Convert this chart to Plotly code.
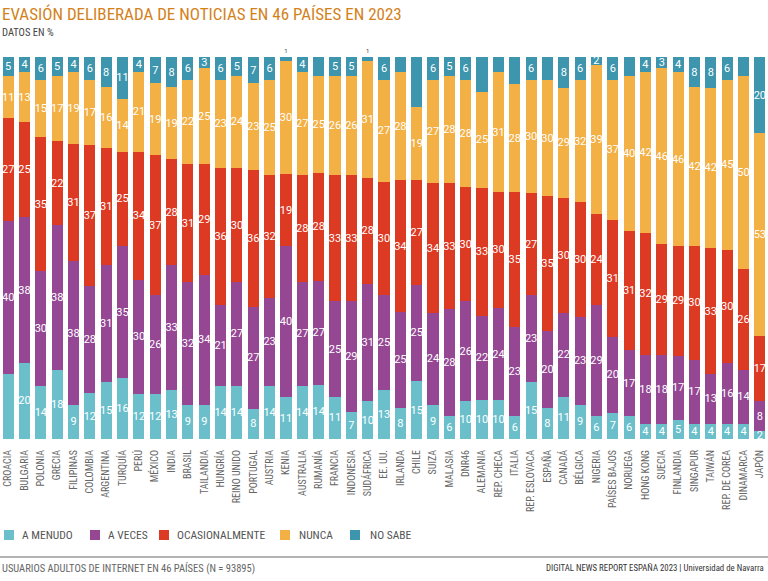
import plotly.graph_objects as go

paises = ["CROACIA", "BULGARIA", "POLONIA", "GRECIA", "FILIPINAS", "COLOMBIA", "ARGENTINA",
          "TURQUÍA", "PERÚ", "MÉXICO", "INDIA", "BRASIL", "TAILANDIA", "HUNGRÍA", "REINO UNIDO",
          "PORTUGAL", "AUSTRIA", "KENIA", "AUSTRALIA", "RUMANÍA", "FRANCIA", "INDONESIA",
          "SUDÁFRICA", "EE. UU.", "IRLANDA", "CHILE", "SUIZA", "MALASIA", "DNR46", "ALEMANIA",
          "REP. CHECA", "ITALIA", "REP. ESLOVACA", "ESPAÑA", "CANADÁ", "BÉLGICA", "NIGERIA",
          "PAÍSES BAJOS", "NORUEGA", "HONG KONG", "SUECIA", "FINLANDIA", "SINGAPUR", "TAIWÁN",
          "REP. DE COREA", "DINAMARCA", "JAPÓN"]

a_menudo = [17, 20, 14, 18, 9, 12, 15, 16, 12, 12, 13, 9, 9, 14, 14, 8, 14, 11, 14, 14, 11, 7,
            10, 13, 8, 15, 9, 6, 10, 10, 10, 6, 15, 8, 11, 9, 6, 7, 6, 4, 4, 5, 4, 4, 4, 4, 2]
a_veces = [40, 38, 30, 38, 38, 28, 31, 35, 30, 26, 33, 32, 34, 21, 27, 27, 23, 40, 27, 27, 25, 29,
           31, 25, 25, 25, 24, 28, 26, 22, 24, 23, 23, 20, 22, 23, 29, 20, 17, 18, 18, 17, 17, 13,
           16, 14, 8]
ocasionalmente = [27, 25, 35, 22, 31, 37, 31, 25, 34, 37, 28, 31, 29, 36, 30, 36, 32, 19, 28, 28,
                  33, 33, 28, 30, 34, 27, 34, 33, 30, 33, 30, 35, 27, 35, 30, 30, 24, 31, 31, 32,
                  29, 29, 30, 33, 30, 26, 17]
nunca = [11, 13, 15, 17, 19, 17, 16, 14, 21, 19, 19, 22, 25, 23, 24, 23, 25, 30, 27, 25, 26, 26,
         31, 27, 28, 19, 27, 28, 28, 25, 31, 28, 30, 30, 29, 32, 39, 37, 40, 42, 46, 46, 42, 42,
         45, 50, 53]
no_sabe = [5, 4, 6, 5, 4, 6, 8, 11, 4, 7, 8, 6, 3, 6, 5, 7, 6, 1, 4, 5, 5, 5, 1, 6, 4, 13, 6, 5,
           6, 9, 4, 7, 6, 6, 8, 6, 2, 6, 5, 4, 3, 4, 8, 8, 6, 5, 20]

series = [
    ("A MENUDO", a_menudo, "#6bbfcb"),
    ("A VECES", a_veces, "#954794"),
    ("OCASIONALMENTE", ocasionalmente, "#dd3a24"),
    ("NUNCA", nunca, "#f3b044"),
    ("NO SABE", no_sabe, "#3d95ae"),
]

COND = "Roboto Condensed, Roboto, sans-serif"

fig = go.Figure()
for name, vals, col in series:
    texts = [str(v) for v in vals]
    positions = ["inside"] * len(vals)
    if name == "A MENUDO":
        texts[0] = ""
    if name == "NO SABE":
        for i, v in enumerate(vals):
            if v <= 1:
                positions[i] = "outside"
    fig.add_trace(go.Bar(
        x=paises, y=vals, name=name, marker=dict(color=col, line=dict(width=0)),
        text=texts, textposition=positions, insidetextanchor="middle",
        textangle=0, constraintext="none",
        insidetextfont=dict(color="white", size=11, family="Roboto"),
        outsidetextfont=dict(color="#444444", size=6, family="Roboto"),
        cliponaxis=False, hoverinfo="x+y+name", showlegend=False,
    ))

H = 382.0
W = 768.0
def py(pix):
    return (439 - pix) / H
def px(pix):
    return pix / W

# legend (swatch + label), laid out like the reference
leg_sq_x = [4, 90, 159, 280, 350]
leg_tx_x = [20, 106, 175, 297, 368]
LEG_Y = 535
shapes = []
anns = []
for (name, vals, col), sx, tx in zip(series, leg_sq_x, leg_tx_x):
    shapes.append(dict(type="rect", xref="paper", yref="paper",
                       x0=px(sx), x1=px(sx + 10), y0=py(LEG_Y + 5), y1=py(LEG_Y - 5),
                       fillcolor=col, line=dict(width=0)))
    anns.append(dict(text=name, xref="paper", yref="paper", x=px(tx), y=py(LEG_Y),
                     xanchor="left", yanchor="middle", showarrow=False,
                     font=dict(family=COND, size=11.5, color="#555555")))

shapes.append(dict(type="line", xref="paper", yref="paper", x0=0, x1=1, y0=py(557), y1=py(557),
                   line=dict(color="#9a9a9a", width=1.5)))

anns += [
    dict(text="EVASIÓN DELIBERADA DE NOTICIAS EN 46 PAÍSES EN 2023", xref="paper", yref="paper",
         x=0, y=py(14), xanchor="left", yanchor="middle", showarrow=False,
         font=dict(family=COND, size=17, color="#d3821b")),
    dict(text="DATOS EN %", xref="paper", yref="paper", x=0, y=py(33), xanchor="left",
         yanchor="middle", showarrow=False,
         font=dict(family=COND, size=10.5, color="#444444")),
    dict(text="USUARIOS ADULTOS DE INTERNET EN 46 PAÍSES (N = 93895)", xref="paper", yref="paper",
         x=0, y=py(568), xanchor="left", yanchor="middle", showarrow=False,
         font=dict(family=COND, size=10.5, color="#666666")),
    dict(text="DIGITAL NEWS REPORT ESPAÑA 2023 | Universidad de Navarra", xref="paper", yref="paper",
         x=0.998, y=py(568), xanchor="right", yanchor="middle", showarrow=False,
         font=dict(family=COND, size=8.8, color="#333333")),
]

fig.update_layout(
    width=768, height=581,
    margin=dict(l=0, r=0, t=57, b=142),
    barmode="stack", barnorm="percent", bargap=0.32,
    plot_bgcolor="white", paper_bgcolor="white",
    font=dict(family="Roboto", color="#555555"),
    xaxis=dict(tickangle=-90, tickfont=dict(family=COND, size=10, color="#666666"),
               showgrid=False, showline=False, ticks="outside", ticklen=6,
               tickcolor="rgba(0,0,0,0)", automargin=False, fixedrange=True),
    yaxis=dict(visible=False, range=[0, 100], fixedrange=True),
    showlegend=False,
    annotations=anns,
    shapes=shapes,
)

fig.write_html("out.html", config={"displayModeBar": False},
               post_script="document.body.style.margin='0';")
